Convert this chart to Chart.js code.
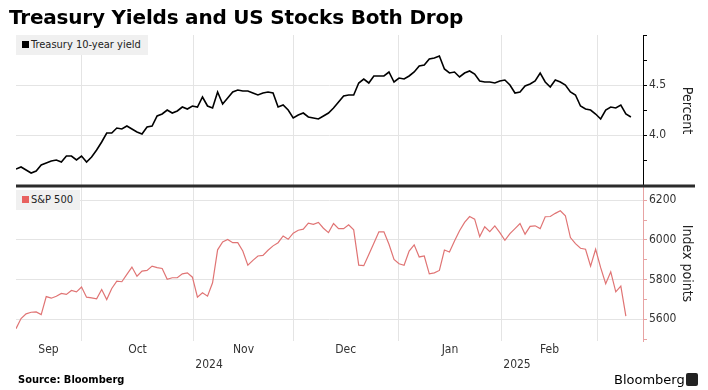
<!DOCTYPE html>
<html>
<head>
<meta charset="utf-8">
<script src="https://cdn.jsdelivr.net/npm/chart.js@4.4.1/dist/chart.umd.min.js"></script>
<style>
  html, body { margin: 0; padding: 0; background: #fff; }
  #wrap { position: relative; width: 708px; height: 390px; overflow: hidden;
          font-family: 'DejaVu Sans Condensed', 'DejaVu Sans', sans-serif; color: #000; }
  #chart { position: absolute; left: 0; top: 0; }
  #title { position: absolute; left: 9px; top: 5px; font: bold 20px 'DejaVu Sans', sans-serif;
           white-space: nowrap; letter-spacing: -0.2px; }
  .legend { position: absolute; left: 16px; height: 20px; line-height: 20px; background: #f0f0f0;
            font-size: 11px; color: #222; padding: 0 7px 0 6px; white-space: nowrap; z-index: 2; }
  .legend i { display: inline-block; width: 7px; height: 7px; margin-right: 2px; }
  #source { position: absolute; left: 18px; top: 373px; font-weight: bold; font-size: 11px; }
  #brand { position: absolute; left: 614px; top: 372px; font-size: 13px; font-family: 'DejaVu Sans', sans-serif; }
  #logo { position: absolute; left: 686px; top: 373px; width: 12px; height: 13px; background: #222; border-radius: 2px; }
</style>
</head>
<body>
<div id="wrap">
  <canvas id="chart" width="708" height="390"></canvas>
  <div id="title">Treasury Yields and US Stocks Both Drop</div>
  <div class="legend" style="top:35px"><i style="background:#000"></i>Treasury 10-year yield</div>
  <div class="legend" style="top:190px"><i style="background:#e8615f"></i>S&amp;P 500</div>
  <div id="source">Source: Bloomberg</div>
  <div id="brand">Bloomberg</div>
  <div id="logo"></div>
</div>
<script>
// Treasury 10-year yield, %, one value per trading day (Sep 11, 2024 onward)
const ust10y = [
  3.66, 3.68, 3.65, 3.62, 3.64, 3.70, 3.72, 3.74, 3.75, 3.73, 3.79, 3.79, 3.75,
  3.79, 3.73, 3.78, 3.85, 3.93, 4.02, 4.02, 4.07, 4.06, 4.09, 4.06, 4.03, 4.01,
  4.08, 4.09, 4.19, 4.21, 4.25, 4.22, 4.24, 4.28, 4.26, 4.29, 4.28, 4.38, 4.29,
  4.27, 4.43, 4.31, 4.37, 4.43, 4.45, 4.44, 4.44, 4.42, 4.40, 4.42, 4.43, 4.42,
  4.28, 4.30, 4.25, 4.17, 4.20, 4.22, 4.18, 4.17, 4.16, 4.19, 4.22, 4.27, 4.33,
  4.39, 4.40, 4.40, 4.52, 4.56, 4.52, 4.59, 4.59, 4.59, 4.63, 4.53, 4.57, 4.56,
  4.59, 4.63, 4.69, 4.70, 4.76, 4.77, 4.79, 4.66, 4.62, 4.63, 4.58, 4.62, 4.64,
  4.61, 4.54, 4.53, 4.53, 4.52, 4.54, 4.55, 4.50, 4.42, 4.43, 4.49, 4.51, 4.54,
  4.62, 4.53, 4.48, 4.55, 4.53, 4.50, 4.43, 4.40, 4.29, 4.26, 4.25, 4.21, 4.16,
  4.25, 4.28, 4.27, 4.30, 4.21, 4.18
];

// S&P 500, index points
const spx = [
  5552, 5603, 5627, 5635, 5637, 5623, 5714, 5706, 5716, 5730, 5725, 5745, 5738,
  5762, 5711, 5708, 5703, 5750, 5699, 5755, 5792, 5789, 5826, 5863, 5817, 5843,
  5846, 5868, 5860, 5856, 5801, 5809, 5809, 5829, 5834, 5812, 5711, 5733, 5716,
  5784, 5950, 5990, 6002, 5986, 5986, 5944, 5873, 5897, 5919, 5922, 5948, 5970,
  5986, 6020, 6003, 6034, 6049, 6054, 6085, 6079, 6088, 6059, 6037, 6083, 6057,
  6057, 6076, 6051, 5873, 5870, 5927, 5983, 6041, 6041, 5978, 5902, 5880, 5872,
  5944, 5975, 5914, 5919, 5829, 5834, 5846, 5949, 5939, 5995, 6046, 6088, 6118,
  6105, 6017, 6066, 6042, 6071, 6037, 5998, 6032, 6057, 6083, 6029, 6068, 6071,
  6057, 6117, 6118, 6134, 6147, 6122, 6012, 5981, 5958, 5953, 5868, 5953, 5860,
  5779, 5839, 5738, 5767, 5615
];

// x axis: month names and where each month begins (in trading-day index)
const months      = ['Sep', 'Oct', 'Nov', 'Dec', 'Jan', 'Feb'];
const monthBreaks = [12.9, 35.3, 55.0, 75.8, 96.4, 115.3];
const years       = ['2024', '2025'];
const yearMonth   = ['Nov', 'Feb'];

// right axes
const ustTicks   = [3.5, 3.75, 4.0, 4.25, 4.5, 4.75, 5.0];
const ustLabeled = [4.0, 4.5];
const spxTicks   = [5500, 5600, 5700, 5800, 5900, 6000, 6100, 6200];
const spxLabeled = [5600, 5800, 6000, 6200];

const GRID      = '#e4e4e4';
const SPX_LINE  = '#e07474';
const SPX_AXIS  = '#e7a3a3';
const TICK_FONT = { family: "'DejaVu Sans Condensed', 'DejaVu Sans', sans-serif", size: 12 };

// build x ticks: month breaks (grid only), month centres (labels), year labels
const xTicks = [];
monthBreaks.forEach(b => xTicks.push({ value: b, label: '', grid: true }));
months.forEach((m, k) => {
  const from = k === 0 ? 0 : monthBreaks[k - 1];
  xTicks.push({ value: (from + monthBreaks[k]) / 2, label: m, grid: false });
});
years.forEach((y, k) => {
  const b = monthBreaks[months.indexOf(yearMonth[k]) - 1];
  xTicks.push({ value: b + 3, label: ['', y], grid: false });
});
xTicks.sort((a, b) => a.value - b.value);

const toPoints = arr => arr.map((v, i) => ({ x: i, y: v }));

// thick rule between the two panels
const separator = {
  id: 'separator',
  afterDatasetsDraw(chart) {
    const c = chart.ctx, y = chart.scales.yUst.bottom;
    c.save();
    c.strokeStyle = '#2b2b2b';
    c.lineWidth = 3;
    c.beginPath();
    c.moveTo(chart.chartArea.left, y);
    c.lineTo(695, y);
    c.stroke();
    c.restore();
  }
};

new Chart(document.getElementById('chart'), {
  type: 'line',
  data: {
    datasets: [
      { label: 'Treasury 10-year yield', data: toPoints(ust10y), yAxisID: 'yUst', borderColor: '#000',
        borderWidth: 1.6, pointRadius: 0, tension: 0 },
      { label: 'S&P 500', data: toPoints(spx), yAxisID: 'ySpx', borderColor: SPX_LINE,
        borderWidth: 1.2, pointRadius: 0, tension: 0 },
    ],
  },
  options: {
    responsive: false,
    animation: false,
    layout: { padding: { top: 35, left: 16, right: 0, bottom: 0 } },
    plugins: { legend: { display: false }, tooltip: { enabled: false } },
    scales: {
      // first scale in the stack is drawn on top
      yUst: {
        type: 'linear', position: 'right', stack: 'panels', stackWeight: 151,
        min: 3.49, max: 5.0,
        afterBuildTicks: s => { s.ticks = ustTicks.map(v => ({ value: v })); },
        afterFit: s => { s.width = 65; },
        ticks: { autoSkip: false, callback: v => ustLabeled.includes(v) ? v.toFixed(1) : '',
                 color: '#333', font: TICK_FONT, padding: 2 },
        grid: { color: c => c.tick && ustLabeled.includes(c.tick.value) ? GRID : 'transparent',
                tickColor: '#000', tickLength: 4 },
        border: { color: '#000' },
        title: { display: true, text: 'Percent', color: '#222', padding: 13,
                 font: { family: TICK_FONT.family, size: 14 } },
      },
      ySpx: {
        type: 'linear', position: 'right', stack: 'panels', stackWeight: 155,
        min: 5490, max: 6272,
        afterBuildTicks: s => { s.ticks = spxTicks.map(v => ({ value: v })); },
        afterFit: s => { s.width = 65; },
        ticks: { autoSkip: false, callback: v => spxLabeled.includes(v) ? String(v) : '',
                 color: '#333', font: TICK_FONT, padding: 2 },
        grid: { color: c => c.tick && spxLabeled.includes(c.tick.value) ? GRID : 'transparent',
                tickColor: SPX_AXIS, tickLength: 4 },
        border: { color: SPX_AXIS },
        title: { display: true, text: 'Index points', color: '#222', padding: 13,
                 font: { family: TICK_FONT.family, size: 14 } },
      },
      x: {
        type: 'linear', position: 'bottom', min: 0, max: 124.4,
        afterBuildTicks: s => { s.ticks = xTicks.map(t => ({ value: t.value })); },
        afterFit: s => { s.height = 49; },
        ticks: { autoSkip: false, maxRotation: 0, padding: 2, color: '#333', font: TICK_FONT,
                 callback: (v, i) => xTicks[i].label },
        grid: { color: c => c.tick && xTicks[c.index] && xTicks[c.index].grid ? GRID : 'transparent',
                drawTicks: false },
        border: { display: false },
      },
    },
  },
  plugins: [separator],
});
</script>
</body>
</html>
